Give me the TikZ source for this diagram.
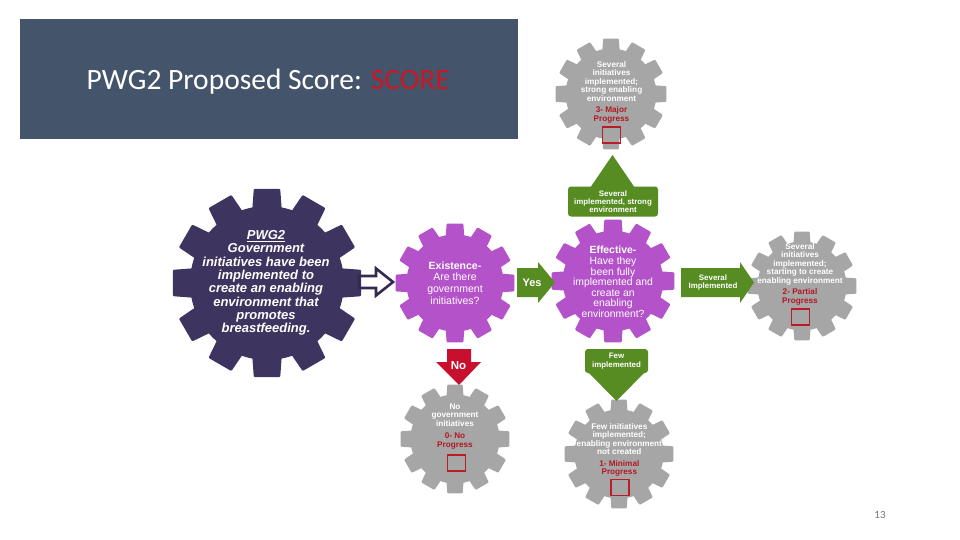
\documentclass[tikz,border=0pt]{standalone}
\usepackage{fontspec}
\setmainfont{Liberation Sans}
\newfontfamily\calibri{Carlito}
\definecolor{titlebg}{RGB}{68,84,106}
\definecolor{gearpurple}{RGB}{62,52,96}
\definecolor{gearmag}{RGB}{180,82,202}
\definecolor{geargray}{RGB}{166,166,166}
\definecolor{arrgreen}{RGB}{86,140,34}
\definecolor{arrred}{RGB}{200,16,46}
\definecolor{progred}{RGB}{178,24,36}
\definecolor{boxred}{RGB}{185,30,40}
\definecolor{scorered}{RGB}{200,24,36}
\definecolor{hollowcol}{RGB}{52,42,80}
\definecolor{pagegray}{RGB}{118,118,118}
% x, y, R, teeth, colour
\newcommand{\gearfill}[5]{%
  \begin{scope}[shift={(#1,#2)}]
    \fill[#5] (0,0) circle ({0.81*#3});
    \foreach \k in {1,...,#4}{%
      \pgfmathsetmacro\ang{90+360/#4*\k}
      \fill[#5,rounded corners=1pt] (\ang-11.5:{0.78*#3}) -- (\ang-8:#3) -- (\ang+8:#3) -- (\ang+11.5:{0.78*#3}) -- cycle;
    }
  \end{scope}}
\tikzset{
  gtxt/.style={text=white, align=center, inner sep=0pt, font=\bfseries\fontsize{8.2}{8.5}\selectfont},
  qtxt/.style={text=white, align=center, inner sep=0pt, font=\fontsize{10.4}{10.6}\selectfont},
  bigtxt/.style={text=white, align=center, inner sep=0pt, font=\bfseries\itshape\fontsize{13}{13.35}\selectfont},
  scorebox/.style={draw, color=boxred, line width=1.1pt, minimum width=18pt, minimum height=16pt, inner sep=0pt},
  gbox/.style={fill=arrgreen, rounded corners=3pt, inner sep=0pt, text=white, align=center, font=\bfseries\fontsize{7.9}{8.2}\selectfont},
  atxt/.style={text=white, align=center, inner sep=0pt, font=\bfseries\fontsize{7.9}{8.2}\selectfont}
}
\begin{document}
\begin{tikzpicture}[x=1pt,y=-1pt]
\useasboundingbox (0,0) rectangle (960,540);
\fill[white] (0,0) rectangle (960,540);
% title
\node[fill=titlebg, minimum width=498pt, minimum height=120pt, inner sep=0pt, anchor=north west] (titlebox) at (20,19) {};
\node[anchor=base west, inner sep=0pt, text=white, font=\calibri\fontsize{29.5}{32}\selectfont] (title) at (86.5,90) {PWG2 Proposed Score: \textcolor{scorered}{SCORE}};

% gears
\gearfill{267}{283}{95}{12}{gearpurple}
\gearfill{455}{283}{60}{12}{gearmag}
\gearfill{613}{281}{62}{12}{gearmag}
\gearfill{611}{94}{56}{12}{geargray}
\gearfill{802}{286}{55}{12}{geargray}
\gearfill{455}{439}{55}{12}{geargray}
\gearfill{619}{454}{55}{12}{geargray}

% score boxes
\node[scorebox] (b3) at (611.5,135) {};
\node[scorebox] (b2) at (800.5,317) {};
\node[scorebox] (b0) at (456.5,463) {};
\node[scorebox] (b1) at (620,487.5) {};

% gear texts
\node[bigtxt] (pwg) at (266,283) {\underline{PWG2}\\Government\\initiatives have been\\implemented to\\create an enabling\\environment that\\promotes\\breastfeeding.};
\node[qtxt, font=\fontsize{10.5}{11.6}\selectfont] (exist) at (455,283) {\textbf{Existence-}\\Are there\\government\\initiatives?};
\node[qtxt] (effect) at (613,282) {\textbf{Effective-}\\Have they\\been fully\\implemented and\\create an\\enabling\\environment?};
\node[gtxt] (g3t) at (611.5,92) {Several\\initiatives\\implemented;\\strong enabling\\environment\\[2.8pt]\textcolor{progred}{3- Major}\\\textcolor{progred}{Progress}};
\node[gtxt] (g2t) at (800,274) {Several\\initiatives\\implemented;\\starting to create\\enabling environment\\[2.8pt]\textcolor{progred}{2- Partial}\\\textcolor{progred}{Progress}};
\node[gtxt] (g0t) at (455,426.5) {No\\government\\initiatives\\[4pt]\textcolor{progred}{0- No}\\\textcolor{progred}{Progress}};
\node[gtxt] (g1t) at (619.3,450) {Few initiatives\\implemented;\\enabling environment\\not created\\[3pt]\textcolor{progred}{1- Minimal}\\\textcolor{progred}{Progress}};

% hollow arrow
\draw[hollowcol, line width=2.6pt, line join=miter] (359,276) -- (376,276) -- (376,268.5) -- (393,282) -- (376,295.5) -- (376,288) -- (359,288) -- cycle;

% yes arrow
\fill[arrgreen] (517,268) -- (538,268) -- (538,262) -- (555,282.5) -- (538,303) -- (538,297) -- (517,297) -- cycle;
\node[inner sep=0pt, text=white, font=\bfseries\fontsize{11}{12}\selectfont] (yes) at (532,282.5) {Yes};

% several implemented arrow (right)
\fill[arrgreen] (681,268) -- (740,268) -- (740,262) -- (754,282.5) -- (740,303) -- (740,297) -- (681,297) -- cycle;
\node[atxt] (sevimp) at (713,282.5) {Several\\Implemented};

% up arrow
\fill[arrgreen] (590,188) -- (612.5,155) -- (635,188) -- cycle;
\node[gbox, minimum width=90pt, minimum height=30pt] (upbox) at (613,201.5) {Several\\implemented, strong\\environment};

% few implemented arrow (down)
\fill[arrgreen] (587,371) -- (616.5,401) -- (646,371) -- cycle;
\node[gbox, minimum width=63pt, minimum height=24pt] (fewbox) at (616.5,361) {Few\\implemented};

% no arrow
\fill[arrred] (447,349) -- (471,349) -- (471,362) -- (481,362) -- (459,385) -- (436,362) -- (447,362) -- cycle;
\node[inner sep=0pt, text=white, font=\bfseries\fontsize{11.5}{12}\selectfont] (no) at (458.5,365.5) {No};

% page number
\node[inner sep=0pt, text=pagegray, font=\calibri\fontsize{11}{12}\selectfont] (pg) at (880,515) {13};
\end{tikzpicture}
\end{document}
